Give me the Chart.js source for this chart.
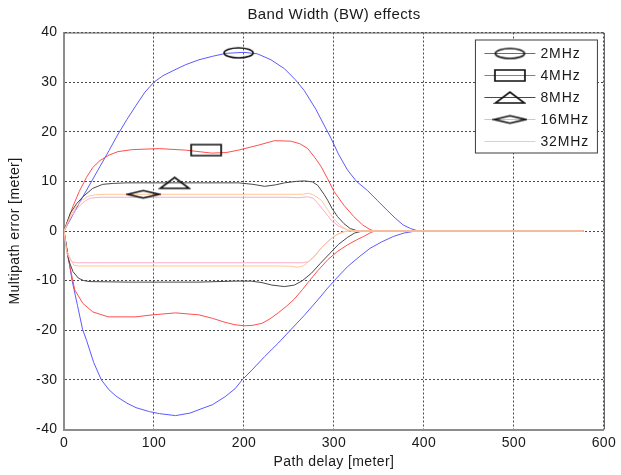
<!DOCTYPE html>
<html><head><meta charset="utf-8">
<script src="https://cdn.jsdelivr.net/npm/chart.js@4/dist/chart.umd.min.js"></script>
<style>html,body{margin:0;padding:0;background:#fff}</style>
</head><body>
<canvas id="c" width="621" height="475" style="width:621px;height:475px;display:block"></canvas>
<script>
// ---------- DATA ----------
const titleText = 'Band Width (BW) effects';
const xTitle = 'Path delay [meter]';
const yTitle = 'Multipath error [meter]';
const xTickValues = [0, 100, 200, 300, 400, 500, 600];
const yTickValues = [-40, -30, -20, -10, 0, 10, 20, 30, 40];
const bandLabels = ['2MHz', '4MHz', '8MHz', '16MHz', '32MHz'];

const bw2Upper = [[0,0],[10,3.3],[20,6.6],[30,9.8],[40,13],[50,16.2],[60,19.5],[70,22.5],[80,25.3],[90,28],[100,30],[110,31.3],[120,32.2],[135,33.5],[150,34.5],[165,35.2],[180,35.8],[200,36],[215,35.7],[230,34.5],[245,32.7],[257,30.5],[267,28.3],[280,24.5],[290,21],[297,18.6],[305,15.5],[315,12.3],[325,10],[337,8.2],[348,6.2],[359,4.2],[368,2.6],[377,1.2],[385,0.5],[392,0.1],[400,0],[577,0]];
const bw2Lower = [[0,0],[4,-4.5],[9,-10],[15,-15],[20.6,-19.8],[25,-22],[33,-26.5],[41.5,-30],[50,-32],[58,-33.3],[70,-34.7],[80,-35.6],[95,-36.4],[106,-36.8],[124,-37.2],[140,-36.7],[150,-36],[165,-35],[179,-33.4],[190,-31.8],[198,-30],[210,-27.8],[223,-25.3],[238,-22.6],[252,-19.9],[267,-17],[282,-13.9],[293,-11.5],[304,-9.3],[315,-7.2],[328,-5.2],[340,-3.5],[353,-2.2],[366,-1.1],[378,-0.4],[388,-0.1],[395,0],[577,0]];

const bw4Upper = [[0,0],[5,2.5],[10,5],[17,8],[25,10.8],[32,12.8],[40,14.2],[50,15.3],[60,16],[76,16.4],[106,16.6],[135,16.3],[164,15.7],[180,15.8],[194,16.3],[216,17.3],[234,18.2],[252,18.1],[262,17.6],[271,16.6],[280,14.5],[286,12.9],[293,10.5],[300,8],[311,5.2],[322,2.9],[332,1.2],[340,0.3],[345,0],[577,0]];
const bw4Lower = [[0,0],[3,-3.5],[6.6,-7.2],[12,-11.9],[21,-14.6],[32,-16.3],[49,-17.3],[80,-17.3],[98,-16.9],[124,-16.5],[150,-16.9],[165,-17.6],[179,-18.4],[190,-18.9],[201,-19.1],[210,-19],[220,-18.6],[229,-17.7],[238,-16.5],[247,-15.2],[256,-13.7],[265,-11.8],[271,-10.4],[282,-8],[293,-5.8],[304,-4.1],[315,-2.8],[325,-1.8],[333,-1.1],[340,-0.4],[345,0],[577,0]];

const bw8Upper = [[0,0],[7,3.6],[14,5.5],[21,6.9],[32,8.6],[43,9.4],[55,9.6],[69,9.7],[100,9.7],[150,9.7],[194,9.7],[210,9.4],[223,9.0],[235,9.3],[245,9.7],[258,10],[267,10.1],[276,9.9],[282,9.2],[289,7.4],[293,6.2],[298,4.5],[304,2.9],[311,1.5],[318,0.5],[325,0.1],[330,0],[577,0]];
const bw8Lower = [[0,0],[5,-5.8],[10,-8.2],[16,-9.5],[22,-10],[29,-10.2],[72,-10.3],[150,-10.3],[190,-10.1],[208,-10.1],[220,-10.4],[231,-10.9],[245,-11.2],[256,-10.9],[265,-10],[275,-8.5],[285,-6.5],[295,-4.6],[305,-2.7],[315,-1.3],[323,-0.4],[332,0],[577,0]];

const bw16Upper = [[0,0],[7,2.6],[13,4.2],[18,5.2],[24,6.1],[29,6.6],[40,6.8],[250,6.8],[260,6.7],[271,6.9],[277,6.6],[282,5.6],[290,3.8],[297,2.2],[305,1.0],[315,0.2],[322,0],[577,0]];
const bw16Lower = [[0,0],[3,-4.5],[8.5,-6.2],[14,-6.4],[30,-6.4],[265,-6.4],[271,-6.2],[277,-5.3],[286,-3.4],[295,-1.8],[303,-0.7],[312,-0.1],[318,0],[577,0]];

const bw32Upper = [[0,0],[7,3],[13,4.8],[20,6.2],[27,7],[35,7.3],[45,7.4],[249,7.4],[265,7.4],[272,7.6],[278,7.2],[286,6.2],[293,4.3],[300,2.4],[308,1.0],[315,0.2],[322,0],[577,0]];
const bw32Lower = [[0,0],[3,-4],[8,-5.9],[11,-6.9],[16,-7.05],[50,-7.05],[240,-7.05],[252,-7.1],[260,-7.3],[266,-7.0],[273,-6.0],[280,-4.8],[286,-3.4],[293,-2.2],[300,-1.1],[308,-0.3],[315,0],[577,0]];

const markerX = [194, 158, 123, 88];
const markerY = [35.9, 16.3, 9.7, 7.4];

// ---------- STYLES ----------
const bandColors = ['#5b5bff', '#ff4f4f', '#484848', '#ffabcc', '#ffc894'];
const markerKinds = ['ellipse', 'rect', 'triangle', 'diamond'];
const FONT = '"Liberation Sans", Arial, sans-serif';
const TEXT = '#1a1a1a';

function makeMarker(kind) {
  const sizes = {ellipse:[29,10], rect:[30,11], triangle:[29,11], diamond:[31,7.5]};
  const [w, h] = sizes[kind];
  const c = document.createElement('canvas');
  c.width = Math.ceil(w) + 4; c.height = Math.ceil(h) + 4;
  const g = c.getContext('2d');
  const cx = c.width / 2, cy = c.height / 2;
  g.strokeStyle = '#111'; g.lineWidth = 1.7;
  g.beginPath();
  if (kind === 'ellipse') g.ellipse(cx, cy, w/2, h/2, 0, 0, Math.PI*2);
  else if (kind === 'rect') g.rect(cx - w/2, cy - h/2, w, h);
  else if (kind === 'triangle') { g.moveTo(cx - w/2, cy + h/2); g.lineTo(cx + w/2, cy + h/2); g.lineTo(cx, cy - h/2); g.closePath(); }
  else { g.moveTo(cx - w/2, cy); g.lineTo(cx, cy - h/2); g.lineTo(cx + w/2, cy); g.lineTo(cx, cy + h/2); g.closePath(); }
  g.stroke();
  return c;
}
const markerImgs = markerKinds.map(makeMarker);

const toPts = arr => arr.map(([x, y]) => ({x, y}));
const branches = [[bw2Upper, bw2Lower], [bw4Upper, bw4Lower], [bw8Upper, bw8Lower], [bw16Upper, bw16Lower], [bw32Upper, bw32Lower]];

const datasets = branches.map(([up, lo], i) => ({
  label: bandLabels[i],
  data: toPts(up).concat([{x: up[up.length-1][0], y: null}], toPts(lo)),
  borderColor: bandColors[i],
  borderWidth: 1,
  pointRadius: 0,
  spanGaps: false,
  tension: 0,
  fill: false,
  order: 10 - i
}));
markerX.forEach((x, i) => datasets.push({
  label: 'marker' + i,
  data: [{x, y: markerY[i]}],
  showLine: false,
  pointStyle: markerImgs[i],
  pointRadius: 5,
  order: 0
}));

const spacingPlugin = {
  id: 'spacing',
  beforeUpdate(chart) { chart.ctx.letterSpacing = '0.4px'; },
  beforeDraw(chart) { chart.ctx.letterSpacing = '0.4px'; }
};

const framePlugin = {
  id: 'frame',
  afterDraw(chart) {
    const {ctx, chartArea: a} = chart;
    ctx.save();
    ctx.strokeStyle = '#5a5a5a'; ctx.lineWidth = 1;
    ctx.beginPath();
    ctx.moveTo(a.left, a.top + 0.5); ctx.lineTo(a.right + 0.5, a.top + 0.5); ctx.lineTo(a.right + 0.5, a.bottom);
    ctx.stroke();
    // legend
    const bx = a.right - 128.5, by = a.top + 7.5, bw = 122, bh = 113;
    ctx.fillStyle = '#fff'; ctx.fillRect(bx, by, bw, bh);
    ctx.strokeStyle = '#3c3c3c'; ctx.strokeRect(bx, by, bw, bh);
    ctx.font = '14px ' + FONT; ctx.textBaseline = 'middle'; ctx.textAlign = 'left';
    ctx.letterSpacing = '0.9px';
    bandLabels.forEach((lab, i) => {
      const y = by + 13.5 + i * 22;
      ctx.strokeStyle = bandColors[i]; ctx.lineWidth = 1;
      ctx.beginPath(); ctx.moveTo(bx + 9, y); ctx.lineTo(bx + 60, y); ctx.stroke();
      if (i < markerImgs.length) {
        const im = markerImgs[i];
        ctx.drawImage(im, bx + 34.5 - im.width/2, y - im.height/2);
      }
      ctx.fillStyle = TEXT; ctx.fillText(lab, bx + 65, y + 0.5);
    });
    ctx.restore();
  }
};

new Chart(document.getElementById('c'), {
  type: 'line',
  data: {datasets},
  plugins: [spacingPlugin, framePlugin],
  options: {
    responsive: false,
    animation: false,
    devicePixelRatio: 1,
    layout: {padding: {left: 0, right: 13.7, top: 0, bottom: 0}},
    plugins: {
      legend: {display: false},
      tooltip: {enabled: false},
      title: {display: true, fullSize: false, text: titleText, color: TEXT, font: {family: FONT, size: 15, weight: 'normal'}, padding: {top: 5.5, bottom: 9}}
    },
    scales: {
      x: {
        type: 'linear', min: 0, max: 600,
        afterBuildTicks: s => { s.ticks = xTickValues.map(v => ({value: v})); },
        afterFit: s => { s.height = 45.5; },
        ticks: {color: TEXT, font: {family: FONT, size: 14}, padding: 4.8, maxRotation: 0},
        grid: {color: '#4a4a4a', lineWidth: 1, drawTicks: false},
        border: {color: '#8c8c8c', width: 2, dash: [2, 2]},
        title: {display: true, text: xTitle, color: TEXT, font: {family: FONT, size: 14}, padding: {top: 0, bottom: 4.9}}
      },
      y: {
        type: 'linear', min: -40, max: 40,
        afterBuildTicks: s => { s.ticks = yTickValues.map(v => ({value: v})); },
        afterFit: s => { s.width = 64; },
        ticks: {color: TEXT, font: {family: FONT, size: 14}, padding: 6.5},
        grid: {color: '#4a4a4a', lineWidth: 1, drawTicks: false},
        border: {color: '#8c8c8c', width: 2, dash: [2, 2]},
        title: {display: true, text: yTitle, color: TEXT, font: {family: FONT, size: 14}, padding: {top: 6.6, bottom: 0}}
      }
    }
  }
});
</script>
</body></html>
